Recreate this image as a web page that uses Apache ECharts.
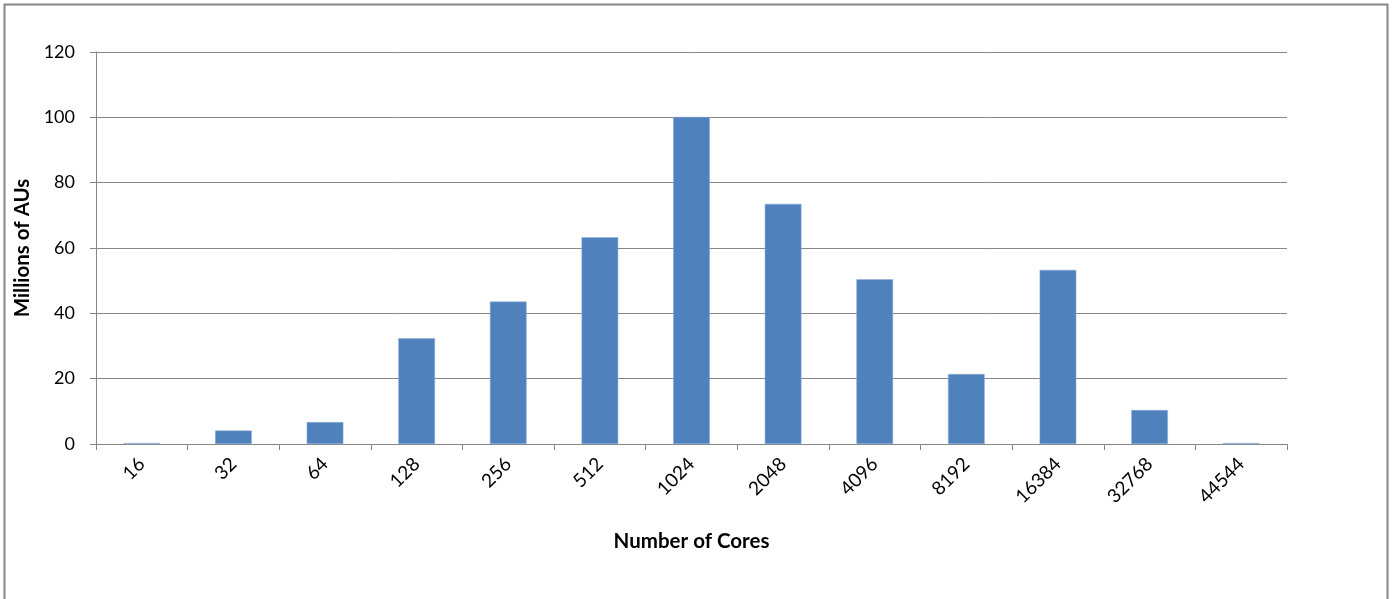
<!DOCTYPE html>
<html><head><meta charset="utf-8">
<script src="https://cdn.jsdelivr.net/npm/echarts@6/dist/echarts.min.js"></script>
<style>html,body{margin:0;padding:0;background:#fff}#c{width:1395px;height:599px}</style>
</head><body><div id="c"></div>
<script>
const categories = ['16','32','64','128','256','512','1024','2048','4096','8192','16384','32768','44544'];
const values = [0.3, 4.1, 6.7, 32.4, 43.6, 63.3, 100.1, 73.5, 50.4, 21.4, 53.3, 10.4, 0.3];
const yTicks = [0, 20, 40, 60, 80, 100, 120];
const xTitle = 'Number of Cores';
const yTitle = 'Millions of AUs';

const chart = echarts.init(document.getElementById('c'), null, {renderer:'canvas'});
const font = 'Lato, "Open Sans", sans-serif';
chart.setOption({
  animation: false,
  graphic: [{type:'rect', shape:{x:4.5,y:4.5,width:1383,height:620}, style:{fill:'none', stroke:'#868686', lineWidth:2}}],
  grid: {left:96, right:108, top:52, bottom:155},
  xAxis: {
    type:'category', data: categories,
    name: xTitle, nameLocation:'middle', nameGap:87,
    nameTextStyle:{fontFamily:font, fontWeight:'bold', fontSize:20.5, color:'#000'},
    axisLine:{lineStyle:{color:'#868686', width:1}},
    axisTick:{show:true, length:6, lineStyle:{color:'#868686'}, alignWithLabel:false},
    axisLabel:{rotate:45, fontFamily:font, fontSize:19, color:'#000', margin:17}
  },
  yAxis: {
    type:'value', min:yTicks[0], max:yTicks[yTicks.length-1], interval:20,
    name: yTitle, nameLocation:'middle', nameGap:51,
    nameTextStyle:{fontFamily:font, fontWeight:'bold', fontSize:20.5, color:'#000'},
    axisLine:{show:true, lineStyle:{color:'#868686'}},
    axisTick:{show:true, length:6, lineStyle:{color:'#868686'}},
    axisLabel:{fontFamily:font, fontSize:18, color:'#000', margin:21},
    splitLine:{lineStyle:{color:'#868686', width:1}}
  },
  series: [{
    type:'bar', data: values, barWidth:'40%',
    itemStyle:{color:'#4F81BD', borderColor:'#8EACD8', borderWidth:0.5}
  }]
});
</script></body></html>
